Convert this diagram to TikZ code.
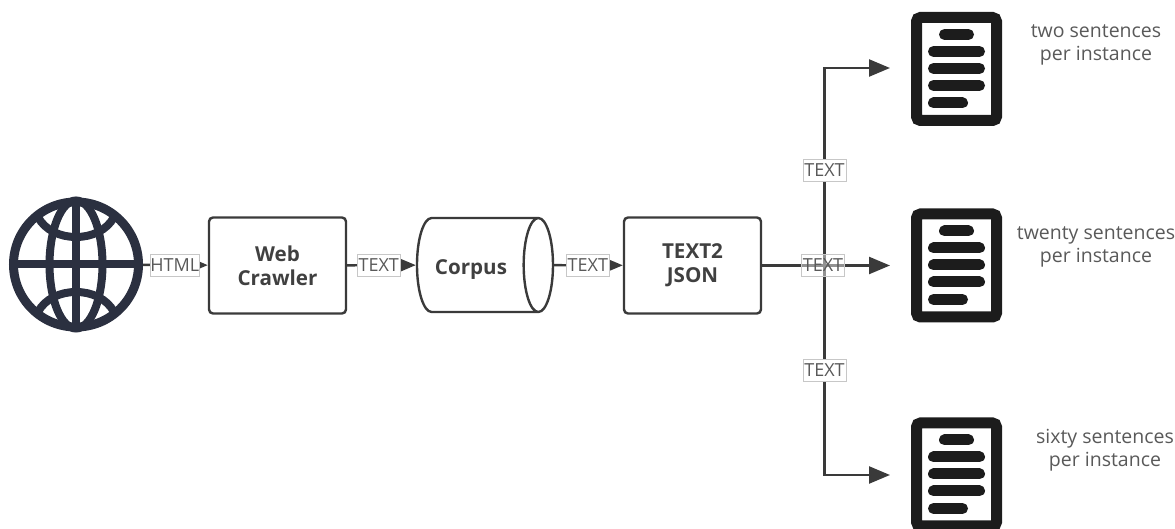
\documentclass[tikz,border=0pt]{standalone}
\usepackage{fontspec}
\setmainfont{Open Sans}
\usepackage{xcolor}
\usetikzlibrary{shapes.geometric,arrows.meta}
\definecolor{inkline}{HTML}{3A3A3A}
\definecolor{inktext}{HTML}{595959}
\definecolor{globeink}{HTML}{2B3040}
\definecolor{docink}{HTML}{1C1C1C}
\tikzset{
    stage/.style={draw=inkline, line width=1.2pt, rounded corners=2pt, minimum width=68.5pt, minimum height=48pt,
        align=center, font=\fontsize{10.3}{12}\selectfont\bfseries, text=black!75},
    flow/.style={draw=inkline, line width=1.2pt, -{Triangle[length=10.5pt,width=8.5pt]}},
    tag/.style={draw=black!22, line width=.4pt, fill=white, inner sep=0pt, minimum width=21.5pt, minimum height=11pt,
        font=\fontsize{9}{11}\selectfont, text=inktext},
    caption/.style={align=center, font=\fontsize{9.75}{11.5}\selectfont, text=inktext},
    docbox/.style={draw=docink, line width=5.5pt, rounded corners=2pt, minimum width=40pt, minimum height=51.5pt, inner sep=0pt, outer sep=0pt},
    docbars/.pic={
        \draw[docink, line width=5.5pt, line cap=round] (-12,-34.5) -- (12,-34.5)
            (-23,-17.5) -- (23,-17.5) (-23,-0.5) -- (23,-0.5) (-23,16.5) -- (23,16.5) (-23,34) -- (6,34);
    }
}
\begin{document}
\begin{tikzpicture}[x=.5pt, y=-.5pt]
    \useasboundingbox (0,0) rectangle (1175,529);

    % Globe
    \node [circle, draw=globeink, line width=4.5pt, minimum size=62.5pt, inner sep=0pt] (web) at (76,264.5) {};
    \begin{scope}[draw=globeink, line width=4pt]
        \draw (web.west) -- (web.east);
        \draw (web.north) -- (web.south);
        \draw (76,264.5) ellipse [x radius=26.5, y radius=64];
        \draw (38,217) .. controls (52,243.7) and (100,243.7) .. (114,217);
        \draw (38,312) .. controls (52,285.3) and (100,285.3) .. (114,312);
    \end{scope}

    % Pipeline
    \node [stage] (crawler) at (277.5,265.5) {Web\\Crawler};
    \node [stage, cylinder, shape aspect=2.2, minimum width=47pt, minimum height=68pt, rounded corners=0pt] (corpus) at (473.3,265) {};
    \node [font=\fontsize{10.3}{12}\selectfont\bfseries, text=black!75] (corpuslabel) at (471,270) {Corpus};
    \node [stage] (json) at (692.5,265.5) {TEXT2\\JSON};

    \draw [flow] (web) -- node [tag, pos=.49] (taghtml) {HTML} (crawler);
    \draw [flow] (crawler) -- node [tag, pos=.46] (tagraw) {TEXT} (corpus);
    \draw [flow] (corpus) -- node [tag, pos=.49] (tagcorpus) {TEXT} (json);

    % Outputs
    \node [docbox] (doctwo) at (956.5,69) {};
    \pic at (doctwo) {docbars};
    \node [docbox] (doctwenty) at (956.5,265.5) {};
    \pic at (doctwenty) {docbars};
    \node [docbox] (docsixty) at (956.5,474.5) {};
    \pic at (docsixty) {docbars};

    \coordinate (trunk) at (824.5,265.5);
    \coordinate (endtwo) at (890,68);
    \coordinate (endtwenty) at (890,265.5);
    \coordinate (endsixty) at (890,475);

    \draw [flow] (json.east) -- (trunk) |- (endtwo);
    \draw [flow] (json.east) -- (trunk) |- (endsixty);
    \draw [flow] (json.east) -- (endtwenty);
    \node [tag] (tagtwo) at (824.5,170) {TEXT};
    \node [tag] (tagsixty) at (824.5,370) {TEXT};
    \node [tag, fill opacity=.45, text opacity=1] (tagtwenty) at (823,265.5) {TEXT};

    \node [caption] (captwo) at (1096,45) {two sentences\\per instance};
    \node [caption] (captwenty) at (1096,247) {twenty sentences\\per instance};
    \node [caption] (capsixty) at (1105,450) {sixty sentences\\per instance};
\end{tikzpicture}
\end{document}
